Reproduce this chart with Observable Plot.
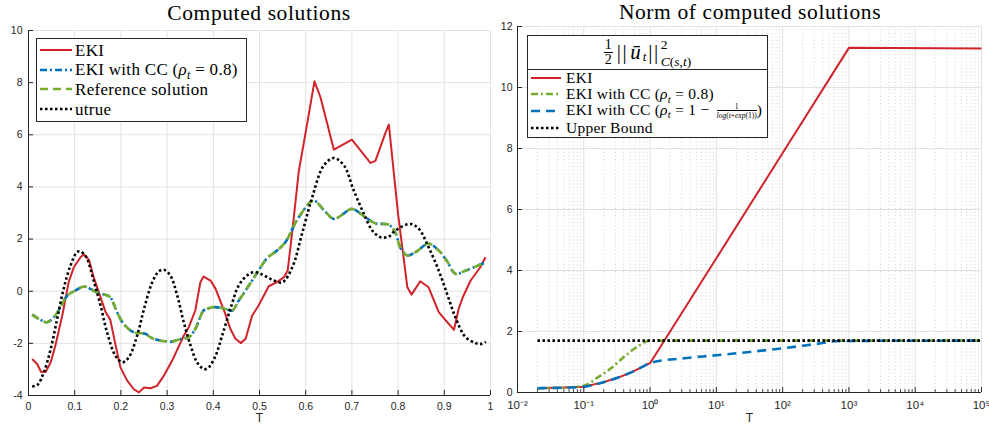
<!DOCTYPE html>
<html><head><meta charset="utf-8">
<script src="https://cdn.jsdelivr.net/npm/d3@7"></script>
<script src="https://cdn.jsdelivr.net/npm/@observablehq/plot@0.6"></script>
<style>
body{margin:0;background:#fff}
#root{position:relative;width:989px;height:430px;overflow:hidden;background:#fff}
.panel{position:absolute;top:0}
.title{position:absolute;font-family:"Liberation Serif",serif;font-size:21.5px;line-height:18px;letter-spacing:0.6px;color:#000;white-space:nowrap;transform:translateX(-50%)}
.legend{position:absolute;background:#fff;border:1px solid #262626;box-sizing:border-box;font-family:"Liberation Serif",serif;color:#000}
.row{position:absolute;display:flex;align-items:center;white-space:nowrap;line-height:1}
.row svg{flex:none}
.sub{font-size:0.7em;position:relative;top:0.3em}
.fr{display:inline-flex;flex-direction:column;align-items:center;vertical-align:middle;line-height:1}
</style></head><body><div id="root"></div><script>
// ---------- Left panel data: computed solutions ----------
const ekiT = [0.008,0.019,0.027,0.037,0.048,0.058,0.073,0.087,0.098,0.113,0.12,0.131,0.141,0.156,0.167,0.177,0.188,0.199,0.214,0.228,0.239,0.25,0.264,0.278,0.293,0.311,0.336,0.347,0.361,0.372,0.379,0.394,0.405,0.426,0.437,0.448,0.46,0.47,0.484,0.498,0.52,0.538,0.553,0.561,0.571,0.585,0.6,0.619,0.632,0.661,0.70,0.74,0.751,0.773,0.78,0.80,0.82,0.829,0.848,0.866,0.888,0.903,0.921,0.931,0.94,0.957,0.978,0.989];
const ekiU = [-2.6,-2.8,-3.09,-3.1,-2.73,-2.1,-0.94,0.35,0.92,1.31,1.41,1.2,0.54,-0.23,-0.81,-1.09,-2.03,-2.92,-3.44,-3.76,-3.88,-3.69,-3.72,-3.63,-3.24,-2.66,-1.71,-1.38,-0.74,0.34,0.56,0.41,0.09,-0.87,-1.45,-1.82,-1.99,-1.82,-0.94,-0.55,0.19,0.35,0.54,0.79,2.3,4.6,6.1,8.05,7.44,5.43,5.81,4.92,5.0,6.09,6.39,2.95,0.15,-0.13,0.38,0.15,-0.8,-1.12,-1.48,-0.68,-0.23,0.41,0.92,1.3];

const refT = [0.008,0.022,0.04,0.055,0.069,0.084,0.102,0.12,0.134,0.149,0.167,0.177,0.192,0.206,0.228,0.253,0.264,0.286,0.297,0.307,0.329,0.347,0.361,0.379,0.39,0.405,0.426,0.441,0.455,0.47,0.498,0.517,0.538,0.556,0.585,0.617,0.64,0.661,0.68,0.70,0.729,0.751,0.78,0.795,0.805,0.82,0.838,0.866,0.888,0.906,0.924,0.946,0.982,0.99];
const refU = [-0.9,-1.06,-1.19,-1.0,-0.62,-0.17,0.03,0.18,0.09,-0.06,-0.14,-0.23,-0.81,-1.26,-1.58,-1.63,-1.77,-1.9,-1.92,-1.94,-1.83,-1.76,-1.45,-0.74,-0.65,-0.61,-0.68,-0.74,-0.36,0.03,0.79,1.28,1.56,1.88,2.84,3.47,3.1,2.77,2.95,3.16,2.84,2.6,2.55,2.21,1.66,1.37,1.5,1.82,1.56,1.15,0.67,0.79,1.05,1.09];

const ccT = [0.008,0.022,0.04,0.055,0.069,0.084,0.102,0.12,0.134,0.149,0.167,0.177,0.192,0.206,0.228,0.253,0.264,0.286,0.297,0.307,0.329,0.347,0.361,0.379,0.39,0.405,0.426,0.441,0.455,0.47,0.498,0.517,0.538,0.556,0.585,0.617,0.64,0.661,0.68,0.70,0.729,0.751,0.78,0.795,0.805,0.82,0.838,0.866,0.888,0.906,0.924,0.946,0.982,0.99];
const ccU = [-0.9,-1.06,-1.19,-1.0,-0.62,-0.17,0.03,0.18,0.09,-0.06,-0.14,-0.23,-0.81,-1.26,-1.58,-1.63,-1.77,-1.9,-1.92,-1.94,-1.83,-1.76,-1.45,-0.74,-0.65,-0.61,-0.68,-0.74,-0.36,0.03,0.79,1.28,1.56,1.88,2.84,3.47,3.1,2.77,2.95,3.16,2.84,2.6,2.55,2.21,1.66,1.37,1.5,1.82,1.56,1.15,0.67,0.79,1.05,1.09];

const trueT = [0.008,0.019,0.033,0.048,0.062,0.076,0.091,0.105,0.112,0.12,0.127,0.141,0.156,0.17,0.188,0.203,0.217,0.235,0.25,0.268,0.282,0.293,0.307,0.322,0.336,0.351,0.365,0.38,0.39,0.405,0.419,0.437,0.455,0.473,0.488,0.502,0.524,0.549,0.571,0.592,0.614,0.639,0.661,0.683,0.704,0.726,0.744,0.762,0.78,0.794,0.827,0.845,0.866,0.888,0.906,0.924,0.946,0.968,0.978,0.99];
const trueU = [-3.65,-3.6,-3.12,-2.22,-1.06,0.09,0.99,1.5,1.53,1.42,1.24,0.41,-0.55,-1.58,-2.47,-2.73,-2.54,-1.71,-0.68,0.35,0.76,0.82,0.6,-0.17,-1.19,-2.09,-2.73,-2.99,-2.92,-2.47,-1.71,-0.68,0.22,0.6,0.73,0.67,0.47,0.34,0.92,2.2,3.6,4.82,5.11,4.82,3.86,2.97,2.33,2.07,2.1,2.33,2.58,2.39,1.69,0.79,-0.1,-1.0,-1.76,-1.99,-2.03,-1.94];

const leftXTicks = [0,0.1,0.2,0.3,0.4,0.5,0.6,0.7,0.8,0.9,1];
const leftXLabels = ["0","0.1","0.2","0.3","0.4","0.5","0.6","0.7","0.8","0.9","1"];
const leftYTicks = [-4,-2,0,2,4,6,8,10];
const leftYLabels = ["-4","-2","0","2","4","6","8","10"];

// ---------- Right panel data: norm of computed solutions ----------
const nEkiT = [0.02,0.05,0.1,0.2,0.33,0.53,0.75,1,10,100,1000,100000];
const nEkiV = [0.14,0.16,0.19,0.34,0.49,0.67,0.83,0.96,4.4,7.85,11.3,11.28];
const nCcT = [0.02,0.05,0.1,0.16,0.26,0.42,0.67,1,100000];
const nCcV = [0.14,0.16,0.22,0.49,0.8,1.2,1.53,1.7,1.7];
const nCc2T = [0.02,0.05,0.1,0.2,0.33,0.53,0.75,1,3.1,10,31.6,100,316,720,100000];
const nCc2V = [0.14,0.16,0.19,0.34,0.49,0.67,0.83,0.97,1.12,1.22,1.33,1.45,1.59,1.69,1.7];
const nUbT = [0.02,100000];
const nUbV = [1.7,1.7];

const rightXTicks = [1e-2,1e-1,1e0,1e1,1e2,1e3,1e4,1e5];
const rightXLabels = ["10⁻²","10⁻¹","10⁰","10¹","10²","10³","10⁴","10⁵"];
const rightYTicks = [0,2,4,6,8,10,12];
const rightYLabels = ["0","2","4","6","8","10","12"];

// ---------- styles ----------
const RED = "#D0232A", BLUE = "#0072BD", GREEN = "#77AC30", BLACK = "#000";
const AX = "#262626", GRID = "#e2e2e2";
const DOT = "2.5,2.5", DASH = "8,5", DASHDOT = "7,3,2,3", DASH2 = "9,6";
const pts = (T, V) => T.map((t, i) => ({t, v: V[i]}));
const fmt = (ticks, labels) => d => labels[ticks.findIndex(t => Math.abs(t - d) < 1e-9 * Math.max(1, Math.abs(d)))] ?? "";
const baseStyle = {fontFamily: "'Liberation Sans', Arial, sans-serif", fontSize: "10.5px", color: AX, background: "transparent", overflow: "visible"};
const lineOpts = (stroke, w, dash, curve) => ({x: "t", y: "v", stroke, strokeWidth: w, strokeDasharray: dash ?? undefined, strokeLinecap: "butt", strokeLinejoin: "round", curve: curve ?? "linear"});

const root = document.getElementById("root");

// left plot
const LW = 495, LH = 430, LML = 28, LMR = 5, LMT = 30, LMB = 35;
const left = Plot.plot({
  width: LW, height: LH, marginLeft: LML, marginRight: LMR, marginTop: LMT, marginBottom: LMB,
  style: baseStyle,
  x: {domain: [0, 1]},
  y: {domain: [-4, 10]},
  marks: [
    Plot.ruleX(leftXTicks, {stroke: GRID, strokeWidth: 1}),
    Plot.ruleY(leftYTicks, {stroke: GRID, strokeWidth: 1}),
    Plot.line(pts(ekiT, ekiU), lineOpts(RED, 2)),
    Plot.line(pts(ccT, ccU), lineOpts(BLUE, 2.6, DASHDOT, "catmull-rom")),
    Plot.line(pts(refT, refU), lineOpts(GREEN, 2.6, DASH, "catmull-rom")),
    Plot.line(pts(trueT, trueU), lineOpts(BLACK, 2.6, DOT, "catmull-rom")),
    Plot.ruleY([-4], {stroke: AX, strokeWidth: 1}),
    Plot.ruleX([0], {stroke: AX, strokeWidth: 1}),
    Plot.tickX(leftXTicks, {x: d => d, stroke: AX, insetTop: LH - LMT - LMB - 5}),
    Plot.tickY(leftYTicks, {y: d => d, stroke: AX, insetRight: LW - LML - LMR - 5}),
    Plot.axisX({ticks: leftXTicks, tickSize: 0, tickPadding: 7, tickFormat: fmt(leftXTicks, leftXLabels), label: null}),
    Plot.axisY({ticks: leftYTicks, tickSize: 0, tickPadding: 6, tickFormat: fmt(leftYTicks, leftYLabels), label: null}),
    Plot.text(["T"], {text: d => d, frameAnchor: "bottom", dy: 26, fontSize: 12, fill: AX})
  ]
});
left.classList.add("panel");
left.style.left = "0px";
root.appendChild(left);

// right plot
const RW = 494, RH = 430, RML = 22, RMR = 8, RMT = 26, RMB = 38;
const minorX = d3.scaleLog().domain([1e-2, 1e5]).ticks().filter(v => !rightXTicks.some(t => Math.abs(v / t - 1) < 1e-6));
const right = Plot.plot({
  width: RW, height: RH, marginLeft: RML, marginRight: RMR, marginTop: RMT, marginBottom: RMB,
  style: baseStyle,
  x: {type: "log", domain: [1e-2, 1e5]},
  y: {domain: [0, 12]},
  marks: [
    Plot.ruleX(minorX, {stroke: "#c8c8c8", strokeWidth: 0.8, strokeDasharray: "1,2.5"}),
    Plot.ruleX(rightXTicks, {stroke: GRID, strokeWidth: 1}),
    Plot.ruleY(rightYTicks, {stroke: GRID, strokeWidth: 1}),
    Plot.line(pts(nEkiT, nEkiV), lineOpts(RED, 2)),
    Plot.line(pts(nCcT, nCcV), lineOpts(GREEN, 2.6, DASHDOT, "monotone-x")),
    Plot.line(pts(nCc2T, nCc2V), lineOpts(BLUE, 2.6, DASH2, "monotone-x")),
    Plot.line(pts(nUbT, nUbV), lineOpts(BLACK, 2.6, DOT)),
    Plot.ruleY([0], {stroke: AX, strokeWidth: 1}),
    Plot.ruleX([1e-2], {stroke: AX, strokeWidth: 1}),
    Plot.tickX(rightXTicks, {x: d => d, stroke: AX, insetTop: RH - RMT - RMB - 5}),
    Plot.tickX(minorX, {x: d => d, stroke: AX, strokeWidth: 0.8, insetTop: RH - RMT - RMB - 3}),
    Plot.tickY(rightYTicks, {y: d => d, stroke: AX, insetRight: RW - RML - RMR - 5}),
    Plot.axisX({ticks: rightXTicks, tickSize: 0, tickPadding: 8, tickFormat: fmt(rightXTicks, rightXLabels), label: null, fontSize: 11.5}),
    Plot.axisY({ticks: rightYTicks, tickSize: 0, tickPadding: 5, tickFormat: fmt(rightYTicks, rightYLabels), label: null}),
    Plot.text(["T"], {text: d => d, frameAnchor: "bottom", dy: 29, fontSize: 12, fill: AX})
  ]
});
right.classList.add("panel");
right.style.left = LW + "px";
root.appendChild(right);

// titles
function addTitle(text, cx, top) {
  const d = document.createElement("div");
  d.className = "title"; d.textContent = text;
  d.style.left = cx + "px"; d.style.top = top + "px";
  root.appendChild(d);
}
addTitle("Computed solutions", 259, 4);
addTitle("Norm of computed solutions", 750, 2.5);

// legends
function swatch(w, color, width, dash) {
  return `<svg width="${w}" height="8"><line x1="0" y1="4" x2="${w}" y2="4" stroke="${color}" stroke-width="${width}" ${dash ? `stroke-dasharray="${dash}"` : ""}/></svg>`;
}
const rho = v => `(<i>ρ</i><span class="sub"><i>t</i></span> = ${v})`;

const leftLegendItems = [
  {label: "EKI", color: RED, w: 2, dash: null},
  {label: "EKI with CC " + rho("0.8"), color: BLUE, w: 2.6, dash: DASHDOT},
  {label: "Reference solution", color: GREEN, w: 2.6, dash: DASH},
  {label: "utrue", color: BLACK, w: 2.6, dash: DOT}
];
const lg = document.createElement("div");
lg.className = "legend";
Object.assign(lg.style, {left: "36px", top: "38px", width: "211px", height: "84px", fontSize: "17px", letterSpacing: "0.3px"});
leftLegendItems.forEach((it, i) => {
  const r = document.createElement("div");
  r.className = "row";
  r.style.left = "3px"; r.style.top = (11 + i * 19.7 - 8) + "px"; r.style.height = "16px";
  r.innerHTML = swatch(32, it.color, it.w, it.dash) + `<span style="margin-left:3px">${it.label}</span>`;
  lg.appendChild(r);
});
root.appendChild(lg);

const frac = `<span class="fr" style="font-size:7.5px;margin-left:3px;letter-spacing:0"><span>1</span><span style="border-top:0.7px solid #000;padding-top:1px"><i>log</i>(<i>t</i>+<i>exp</i>(1))</span></span>)`;
const rightLegendItems = [
  {label: "EKI", color: RED, w: 2, dash: null},
  {label: "EKI with CC " + rho("0.8"), color: GREEN, w: 2.6, dash: DASHDOT},
  {label: `EKI with CC (<i>ρ</i><span class="sub"><i>t</i></span> = 1 − ${frac}`, color: BLUE, w: 2.6, dash: DASH2},
  {label: "Upper Bound", color: BLACK, w: 2.6, dash: DOT}
];
const rg = document.createElement("div");
rg.className = "legend";
Object.assign(rg.style, {left: "527px", top: "35px", width: "241px", height: "103px", fontSize: "15.5px", letterSpacing: "0.25px"});
const hdr = document.createElement("div");
Object.assign(hdr.style, {position: "absolute", left: "0", top: "0", width: "100%", height: "34px", borderBottom: "1px solid #262626", display: "flex", alignItems: "center", justifyContent: "center", boxSizing: "border-box", letterSpacing: "0", lineHeight: "1"});
hdr.innerHTML =
  `<span class="fr" style="font-size:14px;margin-right:4px"><span>1</span><span style="border-top:1px solid #000;padding:0 1px">2</span></span>` +
  `<span style="font-size:21px;letter-spacing:1.5px">||</span>` +
  `<i style="font-size:21px;margin:0 2px 0 2px">ū</i>` +
  `<i style="font-size:13px;align-self:flex-end;margin-bottom:6px;margin-right:2px">t</i>` +
  `<span style="font-size:21px;letter-spacing:1.5px">||</span>` +
  `<span style="display:flex;flex-direction:column;align-items:flex-start;margin-left:1px;height:32px;justify-content:space-between">` +
  `<span style="display:block;font-size:13.5px;line-height:15px">2</span>` +
  `<span style="display:block;font-size:13.5px;line-height:15px"><i>C</i>(<i>s</i>,<i>t</i>)</span></span>`;
rg.appendChild(hdr);
const rowCenters = [42, 58, 75, 92];
rightLegendItems.forEach((it, i) => {
  const r = document.createElement("div");
  r.className = "row";
  r.style.left = "3px"; r.style.top = (rowCenters[i] - 8) + "px"; r.style.height = "16px";
  r.innerHTML = swatch(30, it.color, it.w, it.dash) + `<span style="margin-left:5px">${it.label}</span>`;
  rg.appendChild(r);
});
root.appendChild(rg);
</script></body></html>
